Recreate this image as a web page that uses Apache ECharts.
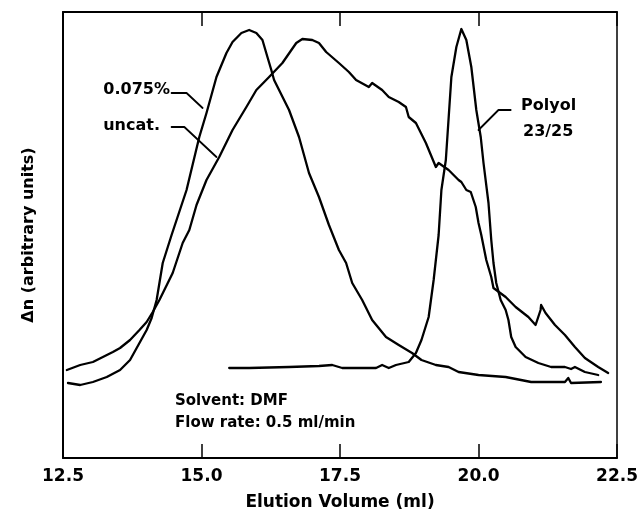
<!DOCTYPE html>
<html>
<head>
<meta charset="utf-8">
<script src="https://cdn.jsdelivr.net/npm/echarts@6/dist/echarts.min.js"></script>
<style>html,body{margin:0;padding:0;background:#fff;}#c{width:641px;height:520px;}</style>
</head>
<body>
<div id="c"></div>
<script>
// Elution volume (ml) and Δn (arbitrary units)
const cat075X = [12.59,12.81,13.04,13.29,13.53,13.71,13.88,14.01,14.10,14.19,14.30,14.46,14.73,14.96,15.09,15.27,15.45,15.56,15.72,15.86,15.99,16.10,16.19,16.26,16.31,16.40,16.58,16.76,16.94,17.12,17.30,17.48,17.61,17.72,17.90,18.08,18.33,18.56,18.80,18.97,19.23,19.46,19.64,20.00,20.49,20.95,21.56,21.62,21.67,22.21];
const cat075Y = [75,73,76,81,88,98,115,128,140,158,195,223,268,321,345,381,405,416,425,428,425,418,401,388,378,368,348,321,285,261,233,208,195,175,158,138,121,113,105,98,93,91,86,83,81,76,76,80,75,76];

const uncatX = [12.57,12.81,13.04,13.22,13.40,13.53,13.71,13.88,14.01,14.12,14.24,14.48,14.66,14.78,14.91,14.96,15.09,15.32,15.56,15.81,15.99,16.22,16.46,16.71,16.82,17.00,17.12,17.25,17.48,17.66,17.79,18.02,18.08,18.26,18.38,18.56,18.69,18.74,18.87,19.05,19.23,19.28,19.46,19.64,19.69,19.78,19.86,19.95,20.00,20.05,20.14,20.23,20.27,20.49,20.67,20.90,21.03,21.12,21.13,21.21,21.38,21.56,21.74,21.92,22.16,22.34];
const uncatY = [88,93,96,101,106,110,118,128,136,146,158,185,215,228,253,260,278,301,328,351,368,381,395,415,419,418,415,406,395,386,378,371,375,368,361,356,351,341,335,315,291,295,288,278,276,268,266,251,235,223,198,181,170,161,151,141,133,148,153,145,133,123,111,100,91,85];

const polyolX = [15.50,15.86,16.58,17.12,17.36,17.54,18.15,18.26,18.38,18.51,18.74,18.87,18.97,19.10,19.19,19.28,19.33,19.41,19.51,19.60,19.69,19.78,19.87,19.96,20.04,20.09,20.18,20.23,20.27,20.32,20.40,20.49,20.54,20.59,20.67,20.85,21.08,21.31,21.56,21.67,21.74,21.92,22.16];
const polyolY = [90,90,91,92,93,90,90,93,90,93,96,105,118,141,178,223,268,298,381,411,429,418,391,348,321,295,255,218,195,175,158,148,138,121,111,101,95,91,91,89,91,86,83];

// leader lines for labels (data coordinates)
const lead075X = [14.46,14.73,15.02];
const lead075Y = [365,365,350];
const leadUncatX = [14.46,14.69,15.27];
const leadUncatY = [331,331,301];
const leadPolyolX = [20.58,20.36,20.18,20.00];
const leadPolyolY = [348,348,338,328];

const xTicks = [12.5,15.0,17.5,20.0,22.5];

function pairs(xs, ys){ return xs.map((x,i)=>[x, ys[i]]); }

const FONT = 'DejaVu Sans';
const chart = echarts.init(document.getElementById('c'), null, {renderer:'canvas'});
function curve(name, xs, ys, w){
  return {name, type:'line', data:pairs(xs,ys), showSymbol:false, symbol:'none',
    lineStyle:{color:'#000', width:w||2.3, join:'round', cap:'round'}, animation:false, z:3};
}
chart.setOption({
  backgroundColor:'#fff',
  animation:false,
  grid:{left:63, right:22, top:12, bottom:62},
  xAxis:[{
    type:'value', min:12.5, max:22.5, interval:2.5,
    axisLine:{show:true, onZero:false, lineStyle:{color:'#000', width:2}},
    axisTick:{show:true, inside:true, length:14, lineStyle:{color:'#000', width:1.5}},
    axisLabel:{color:'#000', fontFamily:FONT, fontWeight:'bold', fontSize:17, margin:10,
      formatter:v=>xTicks.includes(v)?v.toFixed(1):''},
    splitLine:{show:false},
    name:'Elution Volume (ml)', nameLocation:'middle', nameGap:36,
    nameTextStyle:{color:'#000', fontFamily:FONT, fontWeight:'bold', fontSize:17}
  },{
    type:'value', position:'top', min:12.5, max:22.5, interval:2.5,
    axisLine:{show:true, onZero:false, lineStyle:{color:'#000', width:2}},
    axisTick:{show:true, inside:true, length:14, lineStyle:{color:'#000', width:1.5}},
    axisLabel:{show:false}, splitLine:{show:false}
  }],
  yAxis:[{
    type:'value', min:0, max:446,
    axisLine:{show:true, onZero:false, lineStyle:{color:'#000', width:2}},
    axisTick:{show:false}, axisLabel:{show:false}, splitLine:{show:false},
    name:'\u0394n (arbitrary units)', nameLocation:'middle', nameGap:26,
    nameTextStyle:{color:'#000', fontFamily:FONT, fontWeight:'bold', fontSize:16}
  },{
    type:'value', position:'right', min:0, max:446,
    axisLine:{show:true, onZero:false, lineStyle:{color:'#000', width:1.5}},
    axisTick:{show:false}, axisLabel:{show:false}, splitLine:{show:false}
  }],
  series:[
    curve('0.075%', cat075X, cat075Y),
    curve('uncat.', uncatX, uncatY),
    curve('Polyol 23/25', polyolX, polyolY),
    curve('lead075', lead075X, lead075Y, 1.8),
    curve('leadUncat', leadUncatX, leadUncatY, 1.8),
    curve('leadPolyol', leadPolyolX, leadPolyolY, 1.8)
  ],
  graphic:[
    {type:'text', right:641-170, top:82, style:{text:'0.075%', fill:'#000', font:'bold 16px "DejaVu Sans"'}},
    {type:'text', right:641-160, top:118, style:{text:'uncat.', fill:'#000', font:'bold 16px "DejaVu Sans"'}},
    {type:'text', left:521, top:98, style:{text:'Polyol', fill:'#000', font:'bold 16px "DejaVu Sans"'}},
    {type:'text', left:523, top:124, style:{text:'23/25', fill:'#000', font:'bold 16px "DejaVu Sans"'}},
    {type:'text', left:175, top:394, style:{text:'Solvent: DMF', fill:'#000', font:'bold 15px "DejaVu Sans"'}},
    {type:'text', left:175, top:416, style:{text:'Flow rate: 0.5 ml/min', fill:'#000', font:'bold 15px "DejaVu Sans"'}}
  ]
});
</script>
</body>
</html>
